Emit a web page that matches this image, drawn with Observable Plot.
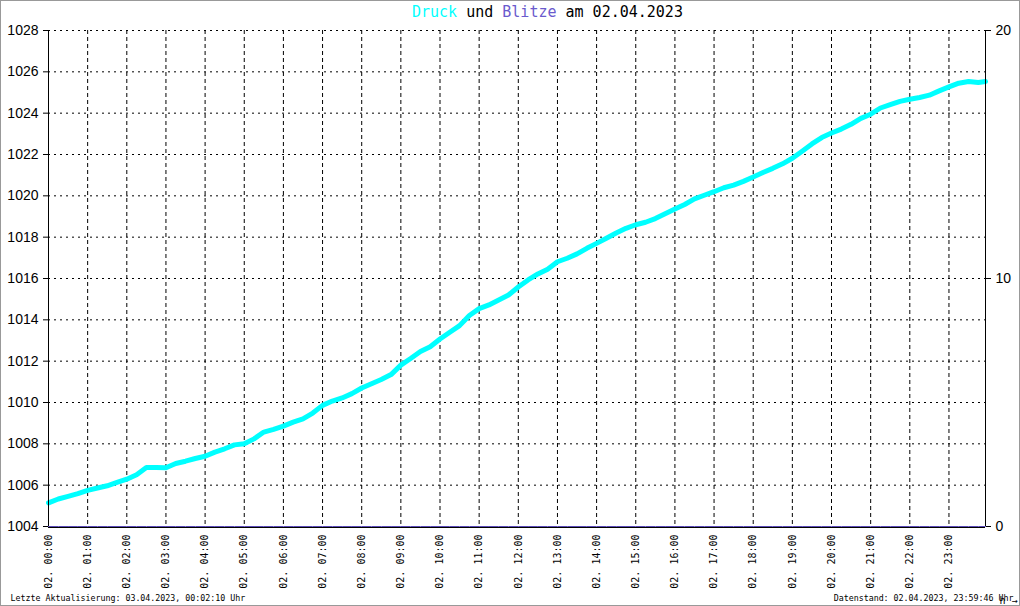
<!DOCTYPE html>
<html><head><meta charset="utf-8">
<script src="https://cdn.jsdelivr.net/npm/d3@7"></script>
<script src="https://cdn.jsdelivr.net/npm/@observablehq/plot@0.6"></script>
<style>
body{margin:0;background:#fff}
#wrap{position:relative;width:1020px;height:606px;overflow:hidden;background:#fff}
#chart{position:absolute;left:0;top:0}
#border{position:absolute;left:0;top:0;width:1020px;height:606px;box-sizing:border-box;border:1px solid #999;pointer-events:none}
#title{position:absolute;left:412px;top:5px;font:15px/15px "DejaVu Sans Mono",monospace;white-space:pre;color:#000}
</style></head>
<body>
<div id="wrap">
  <div id="chart"></div>
  <div id="title"></div>
  <div id="border"></div>
</div>
<script>
// ---- data ----
const titleParts = [["Druck","#00ffff"],[" und ","#000000"],["Blitze","#6a5acd"],[" am 02.04.2023","#000000"]];
const footerLeft = "Letzte Aktualisierung: 03.04.2023, 00:02:10 Uhr";
const footerRight = "Datenstand: 02.04.2023, 23:59:46 Uhr";
const dayPrefix = "02.";

const times = [
 "00:00","00:15","00:30","00:45","01:00","01:15","01:30","01:45",
 "02:00","02:15","02:30","02:45","03:00","03:15","03:30","03:45",
 "04:00","04:15","04:30","04:45","05:00","05:15","05:30","05:45",
 "06:00","06:15","06:30","06:45","07:00","07:15","07:30","07:45",
 "08:00","08:15","08:30","08:45","09:00","09:15","09:30","09:45",
 "10:00","10:15","10:30","10:45","11:00","11:15","11:30","11:45",
 "12:00","12:15","12:30","12:45","13:00","13:15","13:30","13:45",
 "14:00","14:15","14:30","14:45","15:00","15:15","15:30","15:45",
 "16:00","16:15","16:30","16:45","17:00","17:15","17:30","17:45",
 "18:00","18:15","18:30","18:45","19:00","19:15","19:30","19:45",
 "20:00","20:15","20:30","20:45","21:00","21:15","21:30","21:45",
 "22:00","22:15","22:30","22:45","23:00","23:15","23:30","23:45",
 "23:56"
];
const druck = [
 1005.14,1005.33,1005.46,1005.59,1005.75,1005.86,1005.97,1006.13,
 1006.29,1006.50,1006.85,1006.85,1006.84,1007.05,1007.16,1007.29,
 1007.40,1007.60,1007.76,1007.95,1008.00,1008.24,1008.57,1008.70,
 1008.86,1009.05,1009.21,1009.49,1009.86,1010.07,1010.22,1010.43,
 1010.70,1010.91,1011.11,1011.35,1011.81,1012.13,1012.47,1012.70,
 1013.07,1013.40,1013.72,1014.21,1014.54,1014.72,1014.96,1015.20,
 1015.59,1015.93,1016.22,1016.45,1016.81,1016.98,1017.19,1017.46,
 1017.70,1017.95,1018.20,1018.43,1018.60,1018.72,1018.90,1019.13,
 1019.36,1019.58,1019.85,1020.03,1020.20,1020.39,1020.52,1020.70,
 1020.91,1021.13,1021.33,1021.55,1021.82,1022.16,1022.51,1022.82,
 1023.04,1023.23,1023.46,1023.75,1023.95,1024.25,1024.41,1024.57,
 1024.67,1024.76,1024.87,1025.08,1025.27,1025.45,1025.53,1025.48,
 1025.53
];
const blitze = [
 0,0,0,0,0,0,0,0, 0,0,0,0,0,0,0,0, 0,0,0,0,0,0,0,0,
 0,0,0,0,0,0,0,0, 0,0,0,0,0,0,0,0, 0,0,0,0,0,0,0,0,
 0,0,0,0,0,0,0,0, 0,0,0,0,0,0,0,0, 0,0,0,0,0,0,0,0,
 0,0,0,0,0,0,0,0, 0,0,0,0,0,0,0,0, 0,0,0,0,0,0,0,0,
 0
];
const leftTicks = [1004,1006,1008,1010,1012,1014,1016,1018,1020,1022,1024,1026,1028];
const rightTicks = [0,10,20];
const xTickLabels = ["00:00","01:00","02:00","03:00","04:00","05:00","06:00","07:00",
 "08:00","09:00","10:00","11:00","12:00","13:00","14:00","15:00",
 "16:00","17:00","18:00","19:00","20:00","21:00","22:00","23:00"];

// ---- build ----
const toH = t => { const [h, m] = t.split(":").map(Number); return h + m / 60; };
const pMin = leftTicks[0], pMax = leftTicks[leftTicks.length - 1];
const bMax = rightTicks[rightTicks.length - 1];
const bToP = b => pMin + b * (pMax - pMin) / bMax;
const pToB = p => Math.round((p - pMin) * bMax / (pMax - pMin));
const rows = times.map((t, i) => ({h: toH(t), p: druck[i], b: bToP(blitze[i])}));
const xEnd = toH(times[times.length - 1]);
const xTicks = xTickLabels.map(toH);
const labelOf = new Map(xTickLabels.map(l => [toH(l), `${dayPrefix} ${l}`]));

const title = document.getElementById("title");
for (const [txt, col] of titleParts) {
  const s = document.createElement("span");
  s.textContent = txt; s.style.color = col; title.appendChild(s);
}

const mono = "'DejaVu Sans Mono', monospace";
const chart = Plot.plot({
  width: 1020, height: 606,
  marginTop: 30, marginBottom: 80, marginLeft: 48, marginRight: 35,
  style: {background: "white", fontFamily: mono, fontSize: "10px", color: "black"},
  x: {domain: [0, xEnd], axis: null},
  y: {domain: [pMin, pMax], axis: null},
  marks: [
    Plot.ruleY(leftTicks.slice(1), {stroke: "black", strokeDasharray: "2,4", strokeWidth: 1}),
    Plot.ruleX(xTicks.slice(1), {stroke: "black", strokeDasharray: "4,3", strokeWidth: 1}),
    Plot.line(rows, {x: "h", y: "p", stroke: "#00ffff", strokeWidth: 5}),
    Plot.ruleX([0, xEnd], {stroke: "black", strokeWidth: 1}),
    Plot.ruleY([pMin], {stroke: "black", strokeWidth: 1, dy: 1}),
    Plot.line(rows, {x: "h", y: "b", stroke: "#5a4ab8", strokeWidth: 1}),
    Plot.axisY(leftTicks, {anchor: "left", tickSize: 5, tickPadding: 5, fontSize: 14,
      fontFamily: "'Liberation Sans', Arial, sans-serif", tickFormat: d => String(d)}),
    Plot.axisY(rightTicks.map(bToP), {anchor: "right", tickSize: 5, tickPadding: 5, fontSize: 14,
      fontFamily: "'Liberation Sans', Arial, sans-serif", tickFormat: d => String(pToB(d))}),
    Plot.axisX(xTicks, {anchor: "bottom", tickRotate: -90, tickSize: 0, tickPadding: 8,
      fontSize: 10, fontFamily: mono, tickFormat: d => labelOf.get(d)}),
    Plot.text([footerLeft], {frameAnchor: "bottom-left", textAnchor: "start", lineAnchor: "middle",
      dx: -38, dy: 72, fontSize: 8.3, fontFamily: mono, fill: "black"}),
    Plot.text([footerRight], {frameAnchor: "bottom-right", textAnchor: "end", lineAnchor: "middle",
      dx: 28, dy: 72, fontSize: 8.3, fontFamily: mono, fill: "black"})
  ]
});
document.getElementById("chart").appendChild(chart);
</script>
</body></html>
